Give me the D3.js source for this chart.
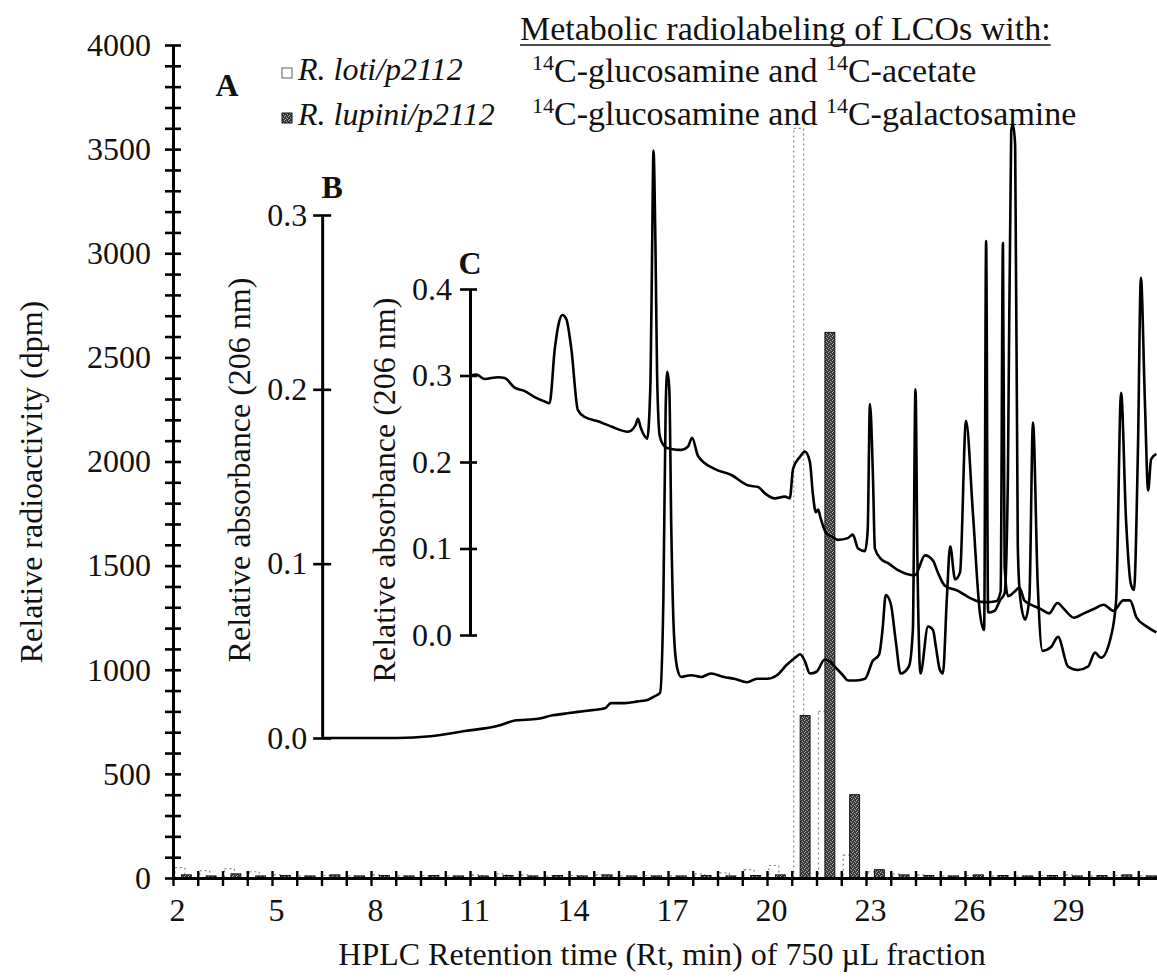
<!DOCTYPE html>
<html>
<head>
<meta charset="utf-8">
<script src="https://cdn.jsdelivr.net/npm/d3@7"></script>
<style>
  body { margin: 0; background: #fff; }
  text { font-family: 'Liberation Serif', 'Times New Roman', serif; fill: #111; }
</style>
</head>
<body>
<div id="chart"></div>
<script>
// 750 uL fractions (start of each fraction, min)
const fractionStart = [2, 2.75, 3.5, 4.25, 5, 5.75, 6.5, 7.25, 8, 8.75, 9.5, 10.25, 11, 11.75,
  12.5, 13.25, 14, 14.75, 15.5, 16.25, 17, 17.75, 18.5, 19.25, 20, 20.75, 21.5, 22.25, 23,
  23.75, 24.5, 25.25, 26, 26.75, 27.5, 28.25, 29, 29.75, 30.5, 31.25];
// R. loti/p2112 (14C-glucosamine + 14C-acetate), dpm
const lotiDpm = [50, 35, 45, 30, 15, 10, 12, 10, 15, 10, 12, 10, 15, 20, 15, 10, 12, 15, 10, 12,
  10, 20, 25, 40, 60, 3600, 800, 110, 30, 20, 15, 10, 12, 10, 10, 12, 15, 10, 12, 10];
// R. lupini/p2112 (14C-glucosamine + 14C-galactosamine), dpm
const lupiniDpm = [15, 10, 20, 10, 12, 10, 15, 10, 12, 10, 12, 10, 10, 12, 10, 12, 10, 15, 10, 10,
  10, 12, 10, 12, 15, 780, 2620, 400, 40, 15, 12, 10, 15, 12, 10, 12, 10, 12, 15, 10];

const dpmTicks = d3.range(0, 4001, 100);
const xTickLabels = [2, 5, 8, 11, 14, 17, 20, 23, 26, 29];
const bTicks = [0, 0.1, 0.2, 0.3];
const cTicks = [0, 0.1, 0.2, 0.3, 0.4];

// UV trace B (relative absorbance, 206 nm) [min, A]
const traceB = [[6.52, 0], [8.0, 0], [8.8, 0], [9.8, 0.001], [10.85, 0.004], [11.85, 0.007],
  [12.36, 0.010], [13.06, 0.011], [13.5, 0.013], [13.88, 0.014], [14.27, 0.015], [14.7, 0.016],
  [15.09, 0.017], [15.27, 0.020], [15.7, 0.020], [16.09, 0.021], [16.4, 0.022], [16.6, 0.024],
  [16.76, 0.026], [16.86, 0.08], [16.93, 0.19], [16.98, 0.21], [17.04, 0.20], [17.1, 0.12],
  [17.18, 0.06], [17.28, 0.040], [17.4, 0.035], [17.7, 0.036], [18.0, 0.035], [18.3, 0.037],
  [18.7, 0.035], [19.0, 0.034], [19.4, 0.032], [19.7, 0.034], [20.0, 0.034], [20.3, 0.036],
  [20.6, 0.042], [20.85, 0.046], [21.0, 0.048], [21.15, 0.044], [21.3, 0.037], [21.5, 0.038],
  [21.75, 0.045], [21.9, 0.044], [22.1, 0.040], [22.3, 0.036], [22.45, 0.033], [22.7, 0.033],
  [22.97, 0.034], [23.2, 0.044], [23.4, 0.048], [23.5, 0.062], [23.6, 0.082], [23.75, 0.077],
  [23.9, 0.056], [24.05, 0.037], [24.3, 0.041], [24.42, 0.062], [24.5, 0.20], [24.56, 0.10],
  [24.65, 0.037], [24.88, 0.064], [25.03, 0.062], [25.12, 0.052], [25.24, 0.039], [25.33, 0.037],
  [25.45, 0.08], [25.55, 0.110], [25.7, 0.091], [25.85, 0.095], [26.03, 0.182], [26.24, 0.129],
  [26.45, 0.072], [26.58, 0.062], [26.64, 0.285], [26.7, 0.072], [26.9, 0.073], [27.06, 0.079],
  [27.2, 0.083], [27.3, 0.15], [27.4, 0.348], [27.45, 0.352], [27.52, 0.34], [27.6, 0.11],
  [27.67, 0.081], [27.82, 0.068], [27.95, 0.08], [28.06, 0.181], [28.2, 0.09], [28.35, 0.05],
  [28.6, 0.052], [28.82, 0.058], [29.12, 0.041], [29.42, 0.039], [29.73, 0.041], [29.94, 0.049],
  [30.12, 0.046], [30.42, 0.058], [30.58, 0.079], [30.73, 0.198], [30.88, 0.125], [31.03, 0.088],
  [31.12, 0.085], [31.24, 0.165], [31.33, 0.264], [31.45, 0.194], [31.55, 0.142], [31.64, 0.160],
  [31.8, 0.163]];

// UV trace C (relative absorbance, 206 nm) [min, A]
const traceC = [[11.0, 0.300], [11.19, 0.301], [11.44, 0.296], [11.85, 0.298], [12.05, 0.297],
  [12.35, 0.286], [12.66, 0.282], [12.96, 0.275], [13.26, 0.270], [13.41, 0.268], [13.57, 0.331],
  [13.70, 0.362], [13.80, 0.370], [13.92, 0.365], [14.07, 0.331], [14.27, 0.260], [14.48, 0.252],
  [14.88, 0.247], [15.28, 0.241], [15.79, 0.235], [16.02, 0.243], [16.09, 0.250], [16.17, 0.240],
  [16.29, 0.230], [16.37, 0.227], [16.47, 0.294], [16.52, 0.45], [16.56, 0.56], [16.62, 0.45],
  [16.67, 0.30], [16.75, 0.230], [16.90, 0.218], [17.10, 0.215], [17.40, 0.214], [17.61, 0.218],
  [17.73, 0.228], [17.91, 0.207], [18.41, 0.192], [18.92, 0.185], [19.42, 0.173], [19.73, 0.171],
  [19.93, 0.164], [20.23, 0.158], [20.54, 0.160], [20.69, 0.158], [20.79, 0.192], [21.0, 0.206],
  [21.15, 0.212], [21.30, 0.200], [21.39, 0.163], [21.48, 0.142], [21.55, 0.145], [21.61, 0.137],
  [21.79, 0.118], [22.0, 0.113], [22.15, 0.110], [22.45, 0.112], [22.6, 0.116], [22.76, 0.100],
  [22.97, 0.097], [23.05, 0.12], [23.12, 0.267], [23.21, 0.184], [23.27, 0.100], [23.45, 0.088],
  [23.67, 0.083], [23.97, 0.075], [24.48, 0.069], [24.79, 0.092], [25.03, 0.086], [25.18, 0.072],
  [25.39, 0.057], [25.79, 0.051], [26.09, 0.044], [26.39, 0.039], [26.6, 0.038], [26.94, 0.039],
  [27.08, 0.05], [27.15, 0.453], [27.2, 0.08], [27.3, 0.045], [27.5, 0.05], [27.65, 0.055],
  [27.8, 0.04], [28.0, 0.035], [28.3, 0.03], [28.55, 0.025], [28.8, 0.037], [29.0, 0.03],
  [29.3, 0.02], [29.6, 0.025], [29.9, 0.03], [30.2, 0.035], [30.5, 0.028], [30.8, 0.04],
  [31.0, 0.04], [31.2, 0.02], [31.5, 0.01], [31.8, 0.003]];

const width = 1157;
const height = 979;
const font = 32;
const legendFont = 34;

const svg = d3.select('#chart').append('svg')
  .attr('width', width)
  .attr('height', height)
  .style('background', '#fff');

// scales
const x = d3.scaleLinear().domain([2, 32]).range([173, 1163]);
const yA = d3.scaleLinear().domain([0, 4000]).range([878, 45]);
const yB = d3.scaleLinear().domain([0, 0.3]).range([738, 215]);
const yC = d3.scaleLinear().domain([0, 0.4]).range([635, 289]);

// stippled fill for the R. lupini bars
const defs = svg.append('defs');
const pat = defs.append('pattern')
  .attr('id', 'stipple')
  .attr('width', 4).attr('height', 4)
  .attr('patternUnits', 'userSpaceOnUse');
pat.append('rect').attr('width', 4).attr('height', 4).attr('fill', '#3a3a3a');
[[0, 0], [2, 1], [1, 3], [3, 2]].forEach(([px, py]) => {
  pat.append('rect').attr('x', px).attr('y', py).attr('width', 1).attr('height', 1).attr('fill', '#a8a8a8');
});

const bandW = x(fractionStart[1]) - x(fractionStart[0]);

// bars
const bars = svg.append('g');
bars.selectAll('rect.loti')
  .data(fractionStart.map((s, i) => ({ s, v: lotiDpm[i] })))
  .enter().append('rect')
  .attr('class', 'loti')
  .attr('x', (d) => x(d.s) + bandW * 0.08)
  .attr('width', bandW * 0.4)
  .attr('y', (d) => yA(d.v))
  .attr('height', (d) => yA(0) - yA(d.v))
  .attr('fill', '#fff')
  .attr('stroke', '#888')
  .attr('stroke-width', 1.2)
  .attr('stroke-dasharray', '2,3');
bars.selectAll('rect.lupini')
  .data(fractionStart.map((s, i) => ({ s, v: lupiniDpm[i] })))
  .enter().append('rect')
  .attr('class', 'lupini')
  .attr('x', (d) => x(d.s) + bandW * 0.34)
  .attr('width', bandW * 0.4)
  .attr('y', (d) => yA(d.v))
  .attr('height', (d) => yA(0) - yA(d.v))
  .attr('fill', 'url(#stipple)')
  .attr('stroke', '#111')
  .attr('stroke-width', 1);

// traces
const lineB = d3.line().curve(d3.curveMonotoneX).x((d) => x(d[0])).y((d) => yB(d[1]));
const lineC = d3.line().curve(d3.curveMonotoneX).x((d) => x(d[0])).y((d) => yC(d[1]));
svg.append('path').datum(traceB)
  .attr('d', lineB).attr('fill', 'none').attr('stroke', '#000').attr('stroke-width', 2.6)
  .attr('stroke-linejoin', 'round');
svg.append('path').datum(traceC)
  .attr('d', lineC).attr('fill', 'none').attr('stroke', '#000').attr('stroke-width', 2.6)
  .attr('stroke-linejoin', 'round');

// axis styling helper
const styleAxis = (g, tickHalf) => {
  g.attr('font-size', font).attr('font-family', null);
  g.select('.domain').attr('stroke', '#000').attr('stroke-width', 3);
  g.selectAll('.tick line').attr('stroke', '#000').attr('stroke-width', 2.6);
  if (tickHalf) g.selectAll('.tick line').attr('x1', -tickHalf).attr('x2', tickHalf);
  g.selectAll('.tick text').attr('fill', '#111');
};

// main radioactivity axis (A)
const gA = svg.append('g')
  .attr('transform', `translate(${x(2)},0)`)
  .call(d3.axisLeft(yA).tickValues(dpmTicks)
    .tickFormat((d) => (d % 500 === 0 ? d : ''))
    .tickSize(8).tickPadding(14).tickSizeOuter(0));
styleAxis(gA, 8);

// retention time axis
const gX = svg.append('g')
  .attr('transform', `translate(0,${yA(0)})`)
  .call(d3.axisBottom(x).tickValues(fractionStart)
    .tickFormat((d) => (xTickLabels.includes(d) ? d : ''))
    .tickSize(8).tickPadding(12).tickSizeOuter(0));
gX.attr('font-size', font).attr('font-family', null);
gX.select('.domain').attr('stroke', '#000').attr('stroke-width', 3);
gX.selectAll('.tick line').attr('stroke', '#000').attr('stroke-width', 2.4).attr('y1', -7).attr('y2', 8);
gX.selectAll('.tick text').attr('fill', '#111').attr('x', 4);

// absorbance axis B
const gB = svg.append('g')
  .attr('transform', `translate(${x(6.52)},0)`)
  .call(d3.axisLeft(yB).tickValues(bTicks).tickFormat(d3.format('.1f'))
    .tickSize(9).tickPadding(6).tickSizeOuter(0));
styleAxis(gB, 9);

// absorbance axis C
const gC = svg.append('g')
  .attr('transform', `translate(${x(11.0)},0)`)
  .call(d3.axisLeft(yC).tickValues(cTicks).tickFormat(d3.format('.1f'))
    .tickSize(10).tickPadding(8).tickSizeOuter(0));
styleAxis(gC, null);
gC.selectAll('.tick line').attr('x1', -10).attr('x2', 7);

// panel letters
const bold = (txt, px, py) => svg.append('text').attr('x', px).attr('y', py)
  .attr('font-size', 32).attr('font-weight', 'bold').attr('text-anchor', 'middle').text(txt);
bold('A', 227, 96);
bold('B', x(6.52) + 10, 198);
bold('C', x(11.0), 274);

// axis titles
const vTitle = (txt, px, py) => svg.append('text')
  .attr('transform', `translate(${px},${py}) rotate(-90)`)
  .attr('text-anchor', 'middle').attr('font-size', font).text(txt);
vTitle('Relative radioactivity (dpm)', 42, 482);
vTitle('Relative absorbance (206 nm)', 250, 470);
vTitle('Relative absorbance (206 nm)', 395, 490);
svg.append('text').attr('x', 662).attr('y', 965).attr('text-anchor', 'middle')
  .attr('font-size', font).text('HPLC Retention time (Rt, min) of 750 \u00b5L fraction');

// legend
const legend = svg.append('g');
legend.append('rect').attr('x', 282).attr('y', 68).attr('width', 10).attr('height', 10)
  .attr('fill', '#fff').attr('stroke', '#777').attr('stroke-width', 1.2);
legend.append('rect').attr('x', 282).attr('y', 113).attr('width', 10).attr('height', 10)
  .attr('fill', 'url(#stipple)').attr('stroke', '#111').attr('stroke-width', 1);
legend.append('text').attr('x', 298).attr('y', 80).attr('font-size', 32)
  .attr('font-style', 'italic').text('R. loti/p2112');
legend.append('text').attr('x', 298).attr('y', 125).attr('font-size', 32)
  .attr('font-style', 'italic').text('R. lupini/p2112');

const title = legend.append('text').attr('x', 520).attr('y', 40).attr('font-size', legendFont)
  .text('Metabolic radiolabeling of LCOs with:');
const tw = title.node().getComputedTextLength();
legend.append('line').attr('x1', 520).attr('x2', 520 + tw).attr('y1', 45).attr('y2', 45)
  .attr('stroke', '#111').attr('stroke-width', 1.6);

const isoRow = (yPos, tail) => {
  const t = legend.append('text').attr('x', 532).attr('y', yPos).attr('font-size', legendFont);
  t.append('tspan').attr('font-size', 22).attr('dy', -12).text('14');
  t.append('tspan').attr('dy', 12).text('C-glucosamine and ');
  t.append('tspan').attr('font-size', 22).attr('dy', -12).text('14');
  t.append('tspan').attr('dy', 12).text(tail);
};
isoRow(82, 'C-acetate');
isoRow(125, 'C-galactosamine');
</script>
</body>
</html>
